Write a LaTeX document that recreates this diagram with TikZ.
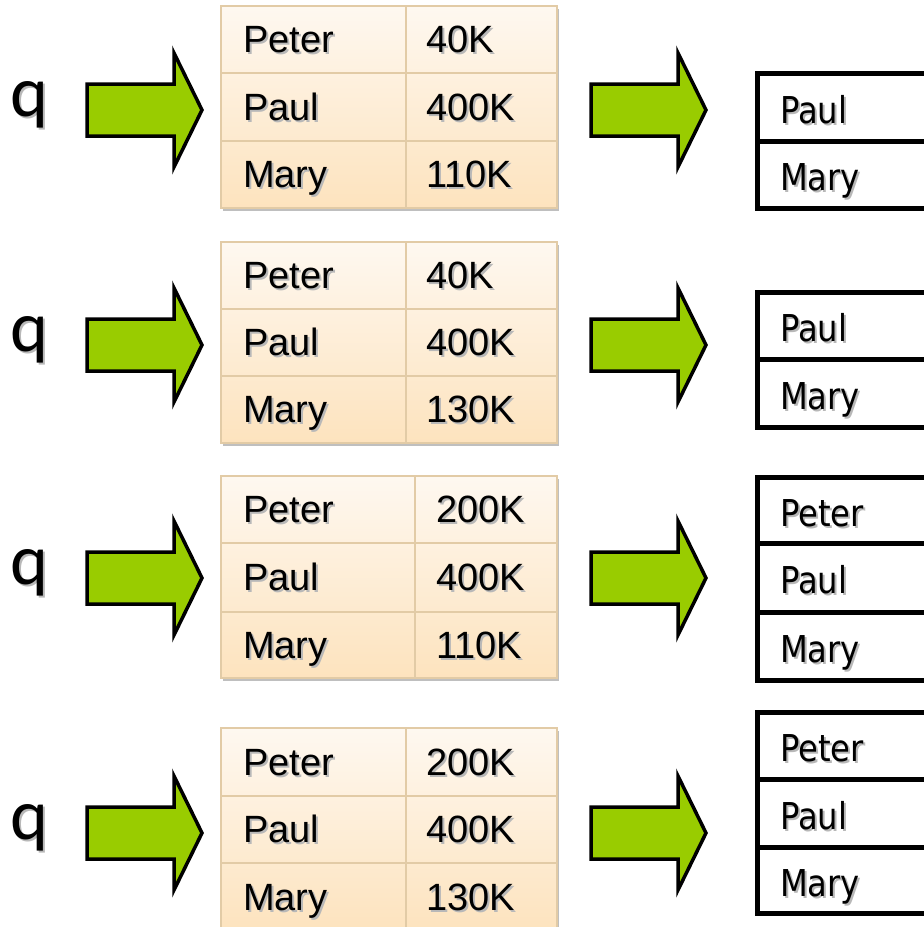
\documentclass[tikz,border=0pt]{standalone}
\usepackage{fontspec}
\setmainfont{Liberation Sans}
\newfontfamily\boxfont[FakeStretch=0.87]{DejaVu Sans}
\newfontfamily\qfont{Carlito}
\usetikzlibrary{shadows}

\definecolor{arrowgreen}{RGB}{153,204,0}
\definecolor{tabletop}{RGB}{254,248,240}
\definecolor{tablebot}{RGB}{253,227,190}
\definecolor{tablerule}{RGB}{226,203,166}

% grey copy of the text set behind it
\newcommand\shadowtext[1]{\makebox[0pt][l]{\kern2pt\raisebox{-2pt}{\textcolor{black!28}{#1}}}#1}

\tikzset{
  qlabel/.style={anchor=base, inner sep=0pt, font=\qfont\fontsize{72}{80}\selectfont},
  cell/.style={anchor=base west, inner sep=0pt, font=\fontsize{38}{44}\selectfont},
  boxcell/.style={anchor=base west, inner sep=0pt, font=\boxfont\fontsize{37}{44}\selectfont},
  tablebox/.style={draw=tablerule, line width=1.5pt, top color=tabletop, bottom color=tablebot,
    drop shadow={shadow xshift=2pt, shadow yshift=-3pt, fill=black, opacity=0.25}},
  tableline/.style={draw=tablerule, line width=1.5pt},
  resultbox/.style={draw=black, line width=5pt},
  blockarrow/.pic={
    \draw[fill=arrowgreen, line width=3.5pt]
      (0,-26) -- (87,-26) -- (87,-57) -- (115,0) -- (87,57) -- (87,26) -- (0,26) -- cycle;
  }
}

\begin{document}
\begin{tikzpicture}[x=1pt,y=-1pt]
\clip (0,0) rectangle (924,927);

% first query
\node[qlabel] (q1) at (29,116) {\shadowtext{q}};
\pic (in1) at (87,110) {blockarrow};
\draw[tablebox] (221,6) rectangle (557,208);
\draw[tableline] (221,73) -- (557,73) (221,141) -- (557,141) (406,6) -- (406,208);
\node[cell] (n11) at (243,52.5) {\shadowtext{Peter}};
\node[cell] (s11) at (426,52.5) {\shadowtext{40K}};
\node[cell] (n12) at (243,120) {\shadowtext{Paul}};
\node[cell] (s12) at (426,120) {\shadowtext{400K}};
\node[cell] (n13) at (243,187.5) {\shadowtext{Mary}};
\node[cell] (s13) at (426,187.5) {\shadowtext{110K}};
\pic (out1) at (591,110) {blockarrow};
\draw[resultbox] (757,73) rectangle (940,208) (757,141) -- (940,141);
\node[boxcell] (r12) at (780,123) {\shadowtext{Paul}};
\node[boxcell] (r13) at (780,190.5) {\shadowtext{Mary}};

% second query
\node[qlabel] (q2) at (29,351) {\shadowtext{q}};
\pic (in2) at (87,345) {blockarrow};
\draw[tablebox] (221,242) rectangle (557,443);
\draw[tableline] (221,309) -- (557,309) (221,376) -- (557,376) (406,242) -- (406,443);
\node[cell] (n21) at (243,288.5) {\shadowtext{Peter}};
\node[cell] (s21) at (426,288.5) {\shadowtext{40K}};
\node[cell] (n22) at (243,355.5) {\shadowtext{Paul}};
\node[cell] (s22) at (426,355.5) {\shadowtext{400K}};
\node[cell] (n23) at (243,422.5) {\shadowtext{Mary}};
\node[cell] (s23) at (426,422.5) {\shadowtext{130K}};
\pic (out2) at (591,345) {blockarrow};
\draw[resultbox] (757,292) rectangle (940,427) (757,359) -- (940,359);
\node[boxcell] (r22) at (780,341.5) {\shadowtext{Paul}};
\node[boxcell] (r23) at (780,409) {\shadowtext{Mary}};

% third query
\node[qlabel] (q3) at (29,584) {\shadowtext{q}};
\pic (in3) at (87,578) {blockarrow};
\draw[tablebox] (221,476) rectangle (557,678);
\draw[tableline] (221,543) -- (557,543) (221,612) -- (557,612) (415,476) -- (415,678);
\node[cell] (n31) at (243,522.5) {\shadowtext{Peter}};
\node[cell] (s31) at (436,522.5) {\shadowtext{200K}};
\node[cell] (n32) at (243,590.5) {\shadowtext{Paul}};
\node[cell] (s32) at (436,590.5) {\shadowtext{400K}};
\node[cell] (n33) at (243,658) {\shadowtext{Mary}};
\node[cell] (s33) at (436,658) {\shadowtext{110K}};
\pic (out3) at (591,578) {blockarrow};
\draw[resultbox] (757,477) rectangle (940,680) (757,543) -- (940,543) (757,612) -- (940,612);
\node[boxcell] (r31) at (780,526) {\shadowtext{Peter}};
\node[boxcell] (r32) at (780,593.5) {\shadowtext{Paul}};
\node[boxcell] (r33) at (780,662) {\shadowtext{Mary}};

% fourth query
\node[qlabel] (q4) at (29,839) {\shadowtext{q}};
\pic (in4) at (87,833) {blockarrow};
\draw[tablebox] (221,728) rectangle (557,931);
\draw[tableline] (221,796) -- (557,796) (221,863) -- (557,863) (406,728) -- (406,931);
\node[cell] (n41) at (243,775) {\shadowtext{Peter}};
\node[cell] (s41) at (426,775) {\shadowtext{200K}};
\node[cell] (n42) at (243,842.5) {\shadowtext{Paul}};
\node[cell] (s42) at (426,842.5) {\shadowtext{400K}};
\node[cell] (n43) at (243,910) {\shadowtext{Mary}};
\node[cell] (s43) at (426,910) {\shadowtext{130K}};
\pic (out4) at (591,833) {blockarrow};
\draw[resultbox] (757,712) rectangle (940,913) (757,779) -- (940,779) (757,847) -- (940,847);
\node[boxcell] (r41) at (780,761.5) {\shadowtext{Peter}};
\node[boxcell] (r42) at (780,829) {\shadowtext{Paul}};
\node[boxcell] (r43) at (780,896) {\shadowtext{Mary}};
\end{tikzpicture}
\end{document}
